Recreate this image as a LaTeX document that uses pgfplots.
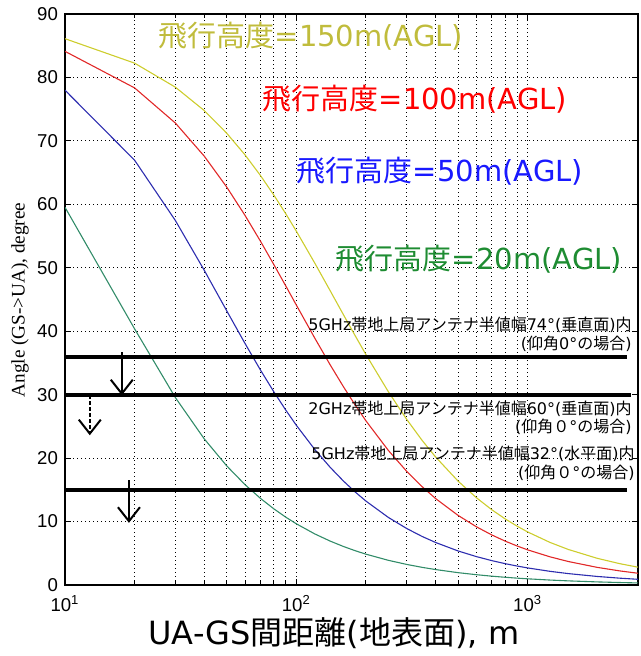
\documentclass[border=0pt]{standalone}
\usepackage{fontspec}
\setmainfont{DejaVu Sans}
\newfontfamily\jp{Noto Sans CJK JP}
\newfontfamily\tickfont{Liberation Sans}
\newfontfamily\seriffont{Liberation Serif}
\usepackage{pgfplots}
\usepackage{pgfplotstable}
\pgfplotsset{compat=1.18}
\usetikzlibrary{arrows.meta}

\definecolor{cyel}{RGB}{205,205,45}
\definecolor{cred}{RGB}{225,40,40}
\definecolor{cblu}{RGB}{45,45,175}
\definecolor{cgrn}{RGB}{50,140,105}
\definecolor{tyel}{RGB}{192,188,60}
\definecolor{tred}{RGB}{255,0,0}
\definecolor{tblu}{RGB}{25,25,255}
\definecolor{tgrn}{RGB}{30,140,50}

\pgfplotstableread{
d     a       b       c       e
10    86.108  84.114  77.989  59.534
20    82.252  78.350  66.949  40.366
30    78.465  72.814  57.450  29.539
40    74.777  67.590  49.600  23.026
50    71.215  62.730  43.229  18.778
60    67.797  58.261  38.073  15.819
70    64.537  54.184  33.879  13.650
80    61.444  50.486  30.434  11.997
90    58.523  47.144  27.575  10.696
100   55.774  44.128  25.174  9.648
120   50.774  38.950  21.389  8.063
140   46.397  34.716  18.558  6.923
160   42.575  31.226  16.370  6.065
180   39.237  28.320  14.634  5.395
200   36.316  25.873  13.225  4.858
250   30.456  21.206  10.647  3.890
300   26.105  17.918  8.904   3.243
350   22.782  15.490  7.648   2.781
400   20.178  13.631  6.702   2.434
500   16.383  10.979  5.370   1.947
600   13.766  9.183   4.479   1.623
700   11.860  7.889   3.841   1.391
800   10.412  6.913   3.362   1.217
900   9.276   6.151   2.989   1.082
1000  8.363   5.540   2.691   0.974
1250  6.707   4.437   2.153   0.779
1500  5.597   3.700   1.795   0.649
2000  4.204   2.777   1.346   0.487
2500  3.365   2.222   1.077   0.390
3000  2.805   1.852   0.898   0.325
}\data

\begin{document}
\begin{tikzpicture}
\begin{axis}[
  at={(0,0)}, anchor=south west,
  scale only axis, width=286.5pt, height=285.5pt,
  xmode=log, xmin=10, xmax=3000, ymin=0, ymax=90,
  xtick={10,100,1000},
  xticklabels={10\textsuperscript{1},10\textsuperscript{2},10\textsuperscript{3}},
  ytick={0,10,...,90},
  tick align=inside,
  major tick length=3pt, minor tick length=1.8pt,
  xmajorgrids, xminorgrids, ymajorgrids,
  major grid style={black, line width=0.5pt, dash pattern=on 0.5pt off 1.5pt},
  minor grid style={black, line width=0.5pt, dash pattern=on 0.5pt off 1.5pt},
  tick label style={font=\tickfont\fontsize{9.3}{10}\selectfont, /pgf/number format/assume math mode=true},
  xticklabel style={yshift=-1.5pt},
  axis line style={line width=0.6pt},
  every tick/.style={black, line width=0.5pt},
]
\addplot[cyel, line width=0.55pt] table[x=d, y=a] {\data};
\addplot[cred, line width=0.55pt] table[x=d, y=b] {\data};
\addplot[cblu, line width=0.55pt] table[x=d, y=c] {\data};
\addplot[cgrn, line width=0.55pt] table[x=d, y=e] {\data};
\addplot[black, line width=2pt] coordinates {(10,36) (2700,36)};
\addplot[black, line width=2pt] coordinates {(10,30) (2800,30)};
\addplot[black, line width=2pt] coordinates {(10,15) (2700,15)};
\draw[black, line width=1pt, -{Straight Barb[length=7pt,width=11pt,line width=1pt]}] (axis cs:17.6,36.7) -- (axis cs:17.6,29.9);
\draw[black, line width=1pt, dash pattern=on 2pt off 1pt, -{Straight Barb[length=7pt,width=11pt,line width=1pt]}] (axis cs:12.8,29.9) -- (axis cs:12.8,23.6);
\draw[black, line width=1pt, -{Straight Barb[length=7pt,width=11pt,line width=1pt]}] (axis cs:18.9,16.5) -- (axis cs:18.9,9.8);
\end{axis}
% curve labels
\begin{scope}[every node/.style={inner sep=0pt, font=\fontsize{14.5}{16}\selectfont}]
\node[anchor=base, text=tyel] at (123pt,269pt) {{\jp 飛行高度}=150m(AGL)};
\node[anchor=base, text=tred] at (175pt,237.5pt) {{\jp 飛行高度}=100m(AGL)};
\node[anchor=base, text=tblu] at (187.5pt,201.5pt) {{\jp 飛行高度}=50m(AGL)};
\node[anchor=base, text=tgrn] at (207pt,157.5pt) {{\jp 飛行高度}=20m(AGL)};
\end{scope}
\begin{scope}[every node/.style={inner sep=0pt, font=\fontsize{8}{9}\selectfont}]
\node[anchor=base east] at (283.5pt,127pt) {5GHz{\jp 帯地上局アンテナ半値幅}74°({\jp 垂直面}){\jp 内}};
\node[anchor=base east] at (283.5pt,117.5pt) {({\jp 仰角}0°{\jp の場合})};
\node[anchor=base east] at (283.5pt,85pt) {2GHz{\jp 帯地上局アンテナ半値幅}60°({\jp 垂直面}){\jp 内}};
\node[anchor=base east] at (283.5pt,76pt) {({\jp 仰角０}°{\jp の場合})};
\node[anchor=base east] at (285pt,62.5pt) {5GHz{\jp 帯地上局アンテナ半値幅}32°({\jp 水平面}){\jp 内}};
\node[anchor=base east] at (285pt,53pt) {({\jp 仰角０}°{\jp の場合})};
\end{scope}
% axis labels
\node[anchor=base, inner sep=0pt, font=\fontsize{16}{18}\selectfont] at (134.5pt,-30pt) {UA-GS{\jp 間距離}({\jp 地表面}), m};
\node[rotate=90, inner sep=0pt, font=\seriffont\fontsize{9.6}{11}\selectfont] at (-22.5pt,142.5pt) {Angle (GS->UA), degree};
\pgfresetboundingbox
\path[use as bounding box] (-32.5pt,-35.5pt) rectangle (287.5pt,292.5pt);
\end{tikzpicture}
\end{document}
